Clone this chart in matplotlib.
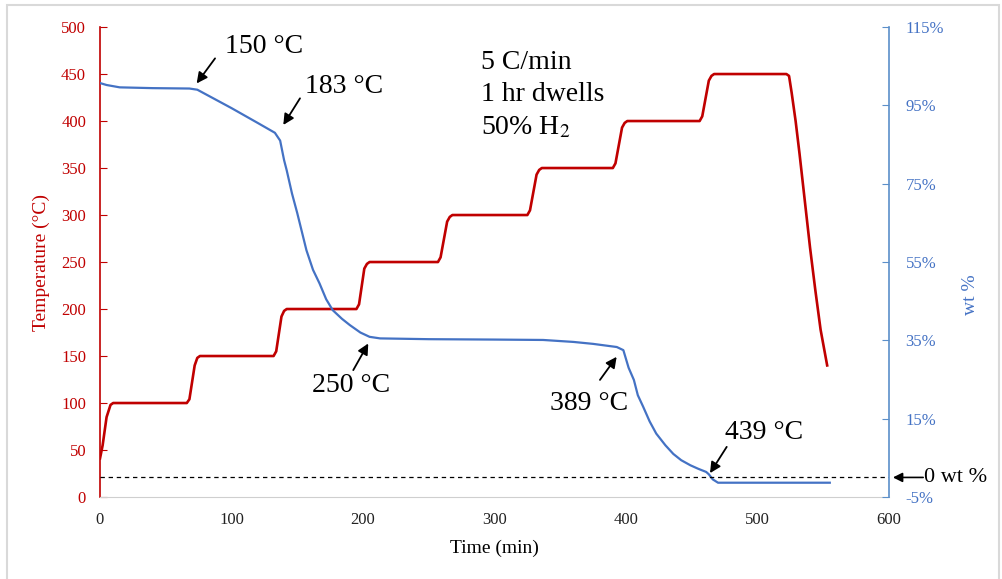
import matplotlib
matplotlib.use("Agg")
import matplotlib.pyplot as plt
from matplotlib.patches import Rectangle

# furnace temperature program (min, degC)
temp_time = [0, 2, 5, 8, 10, 66, 68, 72, 74, 76, 132, 134, 138, 140, 142,
             195, 197, 201, 203, 205, 257, 259, 264, 266, 268, 325, 327, 332, 334, 336,
             390, 392, 397, 399, 401, 456, 458, 463, 465, 467,
             522, 524, 526, 529, 532, 536, 540, 544, 548, 553]
temp_val = [41, 55, 85, 98, 100, 100, 104, 140, 148, 150, 150, 155, 192, 198, 200,
            200, 205, 243, 248, 250, 250, 255, 293, 298, 300, 300, 305, 343, 348, 350,
            350, 355, 393, 398, 400, 400, 405, 443, 448, 450,
            450, 448, 430, 400, 365, 315, 265, 220, 178, 140]

# sample mass (wt %)
wt_time = [0, 5, 15, 40, 68, 74, 100, 120, 133, 137, 140, 142, 146, 150, 157,
           162, 167, 172, 177, 184, 190, 198, 205, 213, 250, 300, 337, 360, 375,
           393, 398, 402, 406, 409, 413, 418, 423, 430, 436, 442, 449, 455, 461,
           463, 466, 470, 555]
wt_val = [100.7, 100.2, 99.6, 99.4, 99.3, 99.0, 94.3, 90.5, 88.0, 86.0, 81.0, 78.4,
          72.5, 67.5, 58.0, 53.0, 49.5, 45.5, 42.7, 40.5, 38.9, 37.0, 35.9, 35.5,
          35.3, 35.2, 35.1, 34.6, 34.1, 33.3, 32.5, 28.0, 24.9, 21.0, 18.1, 14.3,
          11.2, 8.2, 6.0, 4.4, 3.1, 2.2, 1.4, 0.8, -0.5, -1.35, -1.35]

x_ticks = [0, 100, 200, 300, 400, 500, 600]
temp_ticks = [0, 50, 100, 150, 200, 250, 300, 350, 400, 450, 500]
wt_ticks = [-5, 15, 35, 55, 75, 95, 115]

# (label, text pos, arrow tail, arrow tip) in (min, wt %)
notes = [
    ("150 °C", (95.1, 110.0), (87.5, 107.0), (73.5, 100.6)),
    ("183 °C", (155.9, 99.9), (152.1, 96.8), (139.4, 90.0)),
    ("250 °C", (160.9, 23.6), (192.6, 27.4), (204.0, 34.2)),
    ("389 °C", (342.2, 19.0), (380.2, 24.9), (392.9, 30.8)),
    ("439 °C", (475.3, 11.6), (476.6, 7.8), (463.9, 1.1)),
]

RED = "#C00000"
BLUE = "#4472C4"
plt.rcParams["font.family"] = ["Liberation Serif", "DejaVu Serif"]
plt.rcParams["mathtext.fontset"] = "stix"

fig = plt.figure(figsize=(10.02, 5.79), dpi=100)
ax = fig.add_axes([0.0998, 0.1416, 0.7874, 0.8117])
ax2 = ax.twinx()

ax.plot(temp_time, temp_val, color=RED, lw=1.9)
ax2.plot(wt_time, wt_val, color=BLUE, lw=1.6)
ax2.axhline(0, color="black", lw=0.9, ls=(0, (3.5, 3)))

ax.set_xlim(0, 600)
ax.set_ylim(0, 500)
ax2.set_ylim(-5, 115)
ax.set_xticks(x_ticks)
ax.set_yticks(temp_ticks)
ax2.set_yticks(wt_ticks)
ax2.set_yticklabels([f"{v}%" for v in wt_ticks])

ax.tick_params(axis="x", length=0, pad=11, labelsize=12, labelcolor="#222222")
ax.tick_params(axis="y", direction="in", length=5, pad=10, labelsize=12,
               color=RED, labelcolor=RED)
ax2.tick_params(axis="y", direction="in", length=5, pad=12, labelsize=12,
                color="#5B8FC9", labelcolor=BLUE)

for s in ["top", "right"]:
    ax.spines[s].set_visible(False)
ax.spines["left"].set_color(RED)
ax.spines["left"].set_linewidth(1.2)
ax.spines["bottom"].set_color("#CFCFCF")
for s in ["top", "left", "bottom"]:
    ax2.spines[s].set_visible(False)
ax2.spines["right"].set_color("#5B8FC9")
ax2.spines["right"].set_linewidth(1.2)

ax.set_xlabel("Time (min)", fontsize=14, labelpad=8)
ax.set_ylabel("Temperature (°C)", fontsize=14, color=RED)
ax.yaxis.set_label_coords(-0.063, 0.5)
ax2.set_ylabel("wt %", fontsize=14, color=BLUE, rotation=90)
ax2.yaxis.set_label_coords(1.092, 0.43)

for label, txt, tail, tip in notes:
    ax2.text(txt[0], txt[1], label, fontsize=20, va="center", ha="left")
    ax2.annotate("", xy=tip, xytext=tail,
                 arrowprops=dict(arrowstyle="-|>", color="black", lw=1.3,
                                 mutation_scale=16, shrinkA=0, shrinkB=0))

ax2.annotate("", xy=(603, 0), xytext=(626, 0), annotation_clip=False,
             arrowprops=dict(arrowstyle="-|>", color="black", lw=1.2,
                             mutation_scale=14, shrinkA=0, shrinkB=0))
ax2.text(627, 0, "0 wt %", fontsize=16, va="center", ha="left", clip_on=False)

ax.text(290, 462, "5 C/min", fontsize=20, va="center")
ax.text(290, 428, "1 hr dwells", fontsize=20, va="center")
ax.text(290, 393, "50% H$_\\mathrm{2}$", fontsize=20, va="center")

fig.patches.append(Rectangle((0.007, -0.05), 0.99, 1.041, transform=fig.transFigure,
                             fill=False, edgecolor="#D9D9D9", lw=1.5))

fig.savefig("out.png", dpi=100)
